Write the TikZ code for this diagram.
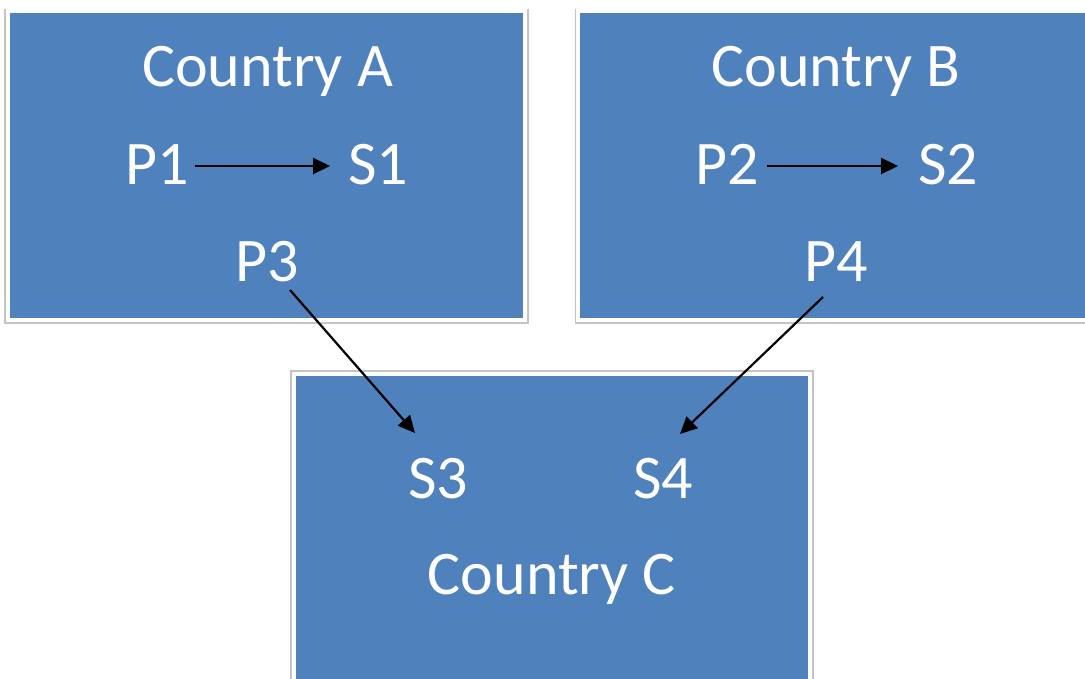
\documentclass[tikz,border=0pt]{standalone}
\usepackage{fontspec}
\setmainfont{Carlito}
\usetikzlibrary{arrows.meta}
\definecolor{boxblue}{RGB}{79,129,189}
\definecolor{framegray}{RGB}{196,196,196}
\begin{document}
\begin{tikzpicture}[x=1pt,y=-1pt,
  lbl/.style={text=white,font=\fontsize{62}{62}\selectfont,anchor=base,inner sep=0pt},
  link/.style={black,line width=2.2pt,-{Triangle[length=17pt,width=16pt]}},
  panel/.style={fill=boxblue},
  rim/.style={draw=framegray,line width=1.3pt}]
\clip (0,0) rectangle (1085,678);
\useasboundingbox (0,0) rectangle (1085,678);

% country panels: thin grey frame around a blue card
\draw[rim] (5,9) -- (5,323) -- (528,323) -- (528,9);
\fill[panel] (10,13) rectangle (523,318);
\draw[rim] (575.5,9) -- (575.5,323) -- (1100,323);
\fill[panel] (580,13) rectangle (1100,318);
\draw[rim] (291,371) rectangle (813,690);
\fill[panel] (296,376) rectangle (808,690);

% labels
\node[lbl] (ca) at (267.5,86) {Country A};
\node[lbl] (p1) at (157,184) {P1};
\node[lbl] (s1) at (378,184) {S1};
\node[lbl] (p3) at (267,281) {P3};

\node[lbl] (cb) at (836,86) {Country B};
\node[lbl] (p2) at (727,184) {P2};
\node[lbl] (s2) at (948,184) {S2};
\node[lbl] (p4) at (836,281) {P4};

\node[lbl] (s3) at (438,498) {S3};
\node[lbl] (s4) at (663,498) {S4};
\node[lbl] (cc) at (552,594) {Country C};

% flows
\draw[link] ([shift={(38,-18)}]p1.base) -- ([shift={(-48,-18)}]s1.base);
\draw[link] ([shift={(40,-18)}]p2.base) -- ([shift={(-50,-18)}]s2.base);
\draw[link] ([shift={(23,9)}]p3.base) -- ([shift={(-23,-65)}]s3.base);
\draw[link] ([shift={(-13,16)}]p4.base) -- ([shift={(17,-64)}]s4.base);
\end{tikzpicture}
\end{document}
